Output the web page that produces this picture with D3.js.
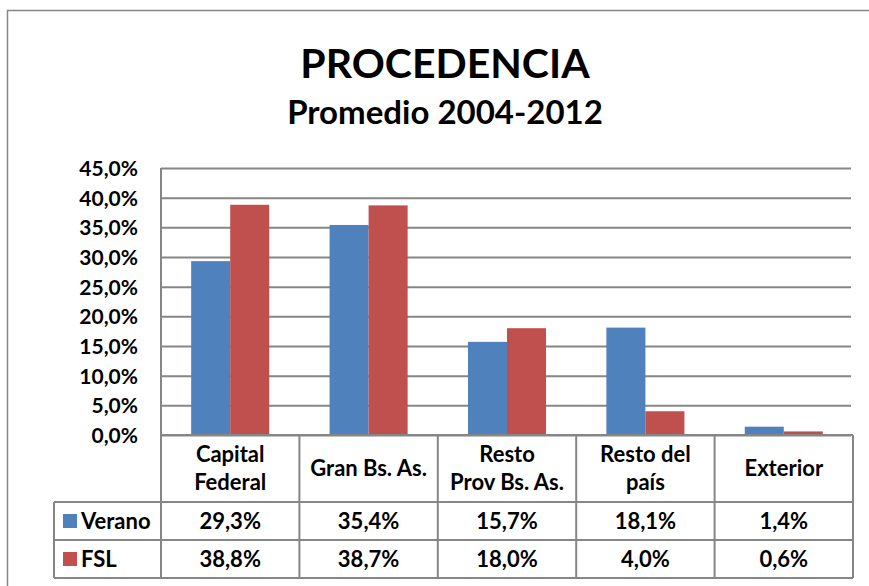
<!DOCTYPE html>
<html>
<head>
<meta charset="utf-8">
<script src="https://cdn.jsdelivr.net/npm/d3@7"></script>
<style>
  body { margin: 0; background: #fff; }
  svg text { font-family: Lato, "Open Sans", sans-serif; font-weight: bold; fill: #000; }
</style>
</head>
<body>
<div id="chart"></div>
<script>
// Data.
var categories = [['Capital', 'Federal'], ['Gran Bs. As.'], ['Resto', 'Prov Bs. As.'], ['Resto del', 'país'], ['Exterior']];
var seriesNames = ['Verano', 'FSL'];
var verano = [29.3, 35.4, 15.7, 18.1, 1.4];
var fsl = [38.8, 38.7, 18.0, 4.0, 0.6];
var yTicks = [0, 5, 10, 15, 20, 25, 30, 35, 40, 45];
var colors = ['#4F81BD', '#C0504D'];

var width = 869, height = 586;
var plotLeft = 161, plotRight = 853, plotTop = 168, plotBottom = 435;
var rowCat = 502, rowVer = 540, rowFsl = 578, tableLeft = 54;
var lineColor = '#868686';

var fmt = function (v) { return v.toFixed(1).replace('.', ',') + '%'; };

var svg = d3.select('#chart')
            .append('svg')
            .attr('width', width)
            .attr('height', height);

// Outer chart border (cut off at the right and bottom).
svg.append('rect')
   .attr('x', 7.5).attr('y', 10.5)
   .attr('width', 900).attr('height', 700)
   .attr('fill', 'none')
   .attr('stroke', lineColor)
   .attr('stroke-width', 1.5);

// Titles.
svg.append('text')
   .attr('x', 445).attr('y', 78)
   .attr('text-anchor', 'middle')
   .style('font-size', '41px')
   .text('PROCEDENCIA');
svg.append('text')
   .attr('x', 445).attr('y', 124)
   .attr('text-anchor', 'middle')
   .style('font-size', '33px')
   .text('Promedio 2004-2012');

// Scales.
var x = d3.scaleBand()
          .domain(d3.range(categories.length))
          .range([plotLeft, plotRight])
          .paddingInner(0.436)
          .paddingOuter(0.218);
var xSub = d3.scaleBand()
             .domain(seriesNames)
             .range([0, x.bandwidth()]);
var y = d3.scaleLinear()
          .domain([0, 45])
          .range([plotBottom, plotTop]);

// Gridlines and y labels.
var yAxis = d3.axisLeft(y)
              .tickValues(yTicks)
              .tickSize(-(plotRight - 2 - plotLeft))
              .tickPadding(23)
              .tickFormat(function (d) { return fmt(d); });
var gy = svg.append('g')
            .attr('transform', 'translate(' + plotLeft + ',0)')
            .call(yAxis);
gy.select('.domain').remove();
gy.selectAll('line').attr('stroke', lineColor).attr('stroke-width', 2);
gy.selectAll('text')
  .style('font-size', '21px')
  .attr('dy', '0.35em');

// Left axis line of the plot.
svg.append('line')
   .attr('x1', plotLeft).attr('x2', plotLeft)
   .attr('y1', plotTop).attr('y2', plotBottom)
   .attr('stroke', lineColor).attr('stroke-width', 2);

// Bars.
var series = [verano, fsl];
series.forEach(function (vals, s) {
  svg.append('g')
     .selectAll('rect')
     .data(vals)
     .join('rect')
     .attr('x', function (d, i) { return x(i) + xSub(seriesNames[s]); })
     .attr('y', function (d) { return y(d); })
     .attr('width', xSub.bandwidth())
     .attr('height', function (d) { return y(0) - y(d); })
     .attr('fill', colors[s]);
});

// Data table.
var step = x.step();
var table = svg.append('g')
               .attr('stroke', lineColor)
               .attr('stroke-width', 2);
// Horizontal lines.
table.append('line').attr('x1', plotLeft).attr('x2', plotRight).attr('y1', plotBottom).attr('y2', plotBottom);
[rowCat, rowVer, rowFsl].forEach(function (ry) {
  table.append('line').attr('x1', tableLeft).attr('x2', plotRight).attr('y1', ry).attr('y2', ry);
});
// Vertical lines.
table.append('line').attr('x1', tableLeft).attr('x2', tableLeft).attr('y1', rowCat).attr('y2', rowFsl);
d3.range(categories.length + 1).forEach(function (i) {
  var lx = plotLeft + i * step;
  table.append('line').attr('x1', lx).attr('x2', lx).attr('y1', plotBottom).attr('y2', rowFsl);
});

// Category labels.
categories.forEach(function (lines, i) {
  var cx = x(i) + x.bandwidth() / 2;
  var t = svg.append('text')
             .attr('text-anchor', 'middle')
             .style('font-size', '22px');
  lines.forEach(function (ln, k) {
    t.append('tspan')
     .attr('x', cx)
     .attr('y', 476 + (k - (lines.length - 1) / 2) * 28)
     .text(ln);
  });
});

// Series rows.
var rowsY = [(rowCat + rowVer) / 2, (rowVer + rowFsl) / 2];
series.forEach(function (vals, s) {
  svg.append('rect')
     .attr('x', 63).attr('y', rowsY[s] - 7)
     .attr('width', 14).attr('height', 14)
     .attr('fill', colors[s]);
  svg.append('text')
     .attr('x', 81).attr('y', rowsY[s] + 8)
     .style('font-size', '22px')
     .text(seriesNames[s]);
  svg.append('g')
     .selectAll('text')
     .data(vals)
     .join('text')
     .attr('x', function (d, i) { return x(i) + x.bandwidth() / 2; })
     .attr('y', rowsY[s] + 8)
     .attr('text-anchor', 'middle')
     .style('font-size', '22px')
     .text(function (d) { return fmt(d); });
});
</script>
</body>
</html>
